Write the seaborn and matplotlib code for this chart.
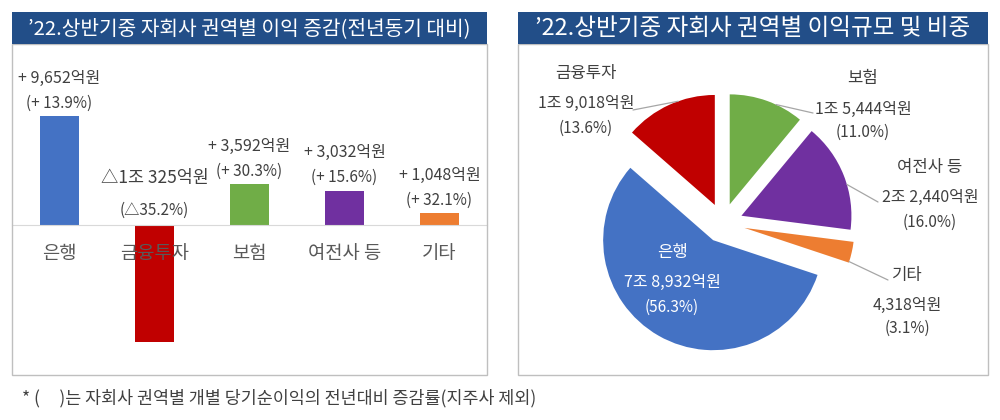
import matplotlib
matplotlib.use("Agg")
import matplotlib.pyplot as plt
import seaborn as sns
import pandas as pd
import numpy as np
from matplotlib.patches import Rectangle

# ---------------- data ----------------
categories = ["은행", "금융투자", "보험", "여전사 등", "기타"]
change_values = [9652, -10325, 3592, 3032, 1048]          # 억원, 전년동기 대비
change_labels = ["+ 9,652억원", "△1조 325억원", "+ 3,592억원", "+ 3,032억원", "+ 1,048억원"]
change_pct_labels = ["(+ 13.9%)", "(△35.2%)", "(+ 30.3%)", "(+ 15.6%)", "(+ 32.1%)"]

profit_values = [78932, 19018, 15444, 22440, 4318]        # 억원
profit_labels = ["7조 8,932억원", "1조 9,018억원", "1조 5,444억원", "2조 2,440억원", "4,318억원"]
share_labels = ["(56.3%)", "(13.6%)", "(11.0%)", "(16.0%)", "(3.1%)"]

title_left = "’22.상반기중 자회사 권역별 이익 증감(전년동기 대비)"
title_right = "’22.상반기중 자회사 권역별 이익규모 및 비중"
footnote = "* (     )는 자회사 권역별 개별 당기순이익의 전년대비 증감률(지주사 제외)"

# ---------------- style ----------------
colors = ["#4472C4", "#C00000", "#70AD47", "#7030A0", "#ED7D31"]
title_bg = "#224E88"
text_col = "#404040"
sns.set_style("white")
plt.rcParams["font.family"] = ["Noto Sans CJK KR", "DejaVu Sans"]

W, H = 1000, 420
fig = plt.figure(figsize=(W / 100, H / 100), dpi=100)


def fbox(x0, y0, x1, y1):
    """pixel box (top-left origin) -> figure rect"""
    return [x0 / W, 1 - y1 / H, (x1 - x0) / W, (y1 - y0) / H]


# panel frames and title bars
for (x0, x1), title, tsize in [((12, 487), title_left, 14.6), ((518, 988), title_right, 17)]:
    r = fbox(x0, 44, x1, 375)
    fig.patches.append(Rectangle((r[0], r[1]), r[2], r[3], transform=fig.transFigure,
                                 fill=False, edgecolor="#BFBFBF", lw=1, zorder=0))
    t = fbox(x0, 12, x1, 44)
    fig.patches.append(Rectangle((t[0], t[1]), t[2], t[3], transform=fig.transFigure,
                                 facecolor=title_bg, edgecolor="none", zorder=0))
    fig.text((x0 + x1) / 2 / W, 1 - 28.5 / H, title, color="white", fontsize=tsize,
             ha="center", va="center")

# ---------------- left: bar chart ----------------
ax1 = fig.add_axes(fbox(12, 44, 487, 375))
df = pd.DataFrame({"category": categories, "change": change_values})
sns.barplot(data=df, x="category", y="change", hue="category", palette=colors,
            legend=False, width=0.41, saturation=1, edgecolor="none", linewidth=0, ax=ax1)
ax1.set_xlim(-0.5, 4.5)
ax1.set_ylim(-13283, 16028)
ax1.patch.set_alpha(0)
for s in ["top", "left", "right"]:
    ax1.spines[s].set_visible(False)
ax1.spines["bottom"].set_position(("data", 0))
ax1.spines["bottom"].set_color("#D9D9D9")
ax1.set_yticks([])
ax1.set_xlabel("")
ax1.set_ylabel("")
ax1.tick_params(axis="x", length=0, pad=13, labelsize=13.5, labelcolor="#595959")
ax1.xaxis.set_zorder(5)
for lbl in ax1.get_xticklabels():
    lbl.set_zorder(5)

px2pt = 72 / 100
for i, v in enumerate(change_values):
    top = max(v, 0)
    if v >= 0:
        o1, o2, fs1 = 38, 13, 11.5
    else:
        o1, o2, fs1 = 47, 15, 12.5
    ax1.annotate(change_labels[i], xy=(i, top), xytext=(0, o1 * px2pt), textcoords="offset points",
                 ha="center", va="center", fontsize=fs1, color=text_col)
    ax1.annotate(change_pct_labels[i], xy=(i, top), xytext=(0, o2 * px2pt), textcoords="offset points",
                 ha="center", va="center", fontsize=11, color=text_col)

# ---------------- right: pie chart ----------------
ax2 = fig.add_axes(fbox(518, 44, 988, 375))
cx, cy, R = 723, 223, 110          # pie centre / radius in pixels (layout)


def pdat(x, y):
    return (x - cx) / R, (cy - y) / R


pie_order = [2, 3, 4, 0, 1]        # clockwise from 12 o'clock: 보험, 여전사 등, 기타, 은행, 금융투자
explode_map = {0: 0.18, 1: 0.18, 2: 0.18, 3: 0.18, 4: 0.2}
wedges, _ = ax2.pie([profit_values[k] for k in pie_order],
                    colors=[colors[k] for k in pie_order],
                    explode=[explode_map[k] for k in pie_order],
                    startangle=90, counterclock=False, radius=1,
                    wedgeprops=dict(linewidth=0))
ax2.set_xlim(-205 / R, 265 / R)
ax2.set_ylim(-152 / R, 179 / R)
ax2.axis("off")

# label layout (pixels): name, value, pct rows and leader end
label_layout = {
    1: dict(x=586, ys=(73, 103, 128), leader=(633, 110)),
    2: dict(x=863, ys=(78, 109, 132), leader=(813, 113)),
    3: dict(x=930, ys=(167, 197, 222), leader=(878, 202)),
    4: dict(x=907, ys=(275, 305, 328), leader=(888, 280)),
    0: dict(x=672, ys=(252, 282, 307), leader=None),
}

for w, k in zip(wedges, pie_order):
    lay = label_layout[k]
    col = "white" if k == 0 else text_col
    texts = [categories[k], profit_labels[k], share_labels[k]]
    sizes = [12, 11.5, 11]
    for t, yy, fs in zip(texts, lay["ys"], sizes):
        ax2.text(*pdat(lay["x"], yy), t, ha="center", va="center", fontsize=fs, color=col)
    if lay["leader"] is not None:
        mid = np.deg2rad((w.theta1 + w.theta2) / 2 - 5)
        sx = w.center[0] + w.r * np.cos(mid)
        sy = w.center[1] + w.r * np.sin(mid)
        ex, ey = pdat(*lay["leader"])
        ax2.plot([sx, ex], [sy, ey], color="#A6A6A6", lw=0.9)

# footnote
fig.text(22 / W, 1 - 398 / H, footnote, fontsize=12.5, color=text_col, ha="left", va="center")

fig.savefig("out.png", dpi=100)
